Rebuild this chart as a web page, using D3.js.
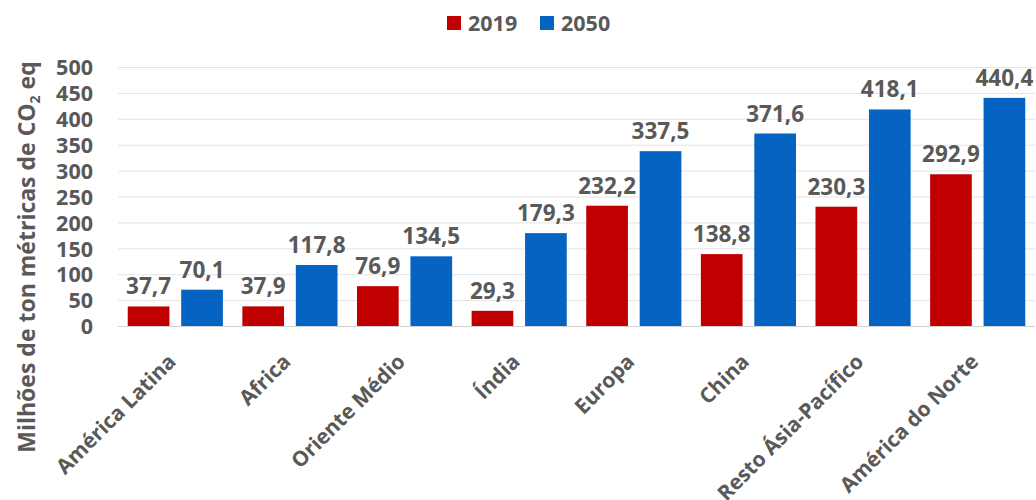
<!DOCTYPE html>
<html>
<head>
<meta charset="utf-8">
<script src="https://cdn.jsdelivr.net/npm/d3@7"></script>
<style>
  html, body { margin: 0; padding: 0; background: #fff; }
  svg text { font-family: "Open Sans", "DejaVu Sans", sans-serif; font-weight: bold; fill: #595959; }
</style>
</head>
<body>
<svg id="chart" width="1036" height="500"></svg>
<script>
// Emissions by region, millions of metric tons CO2 eq
const regions = ["América Latina", "Africa", "Oriente Médio", "Índia", "Europa", "China", "Resto Ásia-Pacífico", "América do Norte"];
const values2019 = [37.7, 37.9, 76.9, 29.3, 232.2, 138.8, 230.3, 292.9];
const values2050 = [70.1, 117.8, 134.5, 179.3, 337.5, 371.6, 418.1, 440.4];
const seriesNames = ["2019", "2050"];
const seriesColors = ["#C00000", "#0563C1"];
const yTicks = [0, 50, 100, 150, 200, 250, 300, 350, 400, 450, 500];

const svg = d3.select("#chart");
const margin = { left: 118, right: 1, top: 67, bottom: 174 };
const W = 1036, H = 500;

const x = d3.scaleBand().domain(regions).range([margin.left, W - margin.right]).paddingInner(0.17).paddingOuter(0.085);
const x1 = d3.scaleBand().domain(seriesNames).range([0, x.bandwidth()]).paddingInner(0.22);
const y = d3.scaleLinear().domain([0, 500]).range([H - margin.bottom, margin.top]);

// Gridlines
svg.append("g")
  .selectAll("line").data(yTicks).join("line")
  .attr("x1", margin.left).attr("x2", W - margin.right)
  .attr("y1", d => y(d) + 0.5).attr("y2", d => y(d) + 0.5)
  .attr("stroke", d => d === 0 ? "#d0d0d0" : "#e4e4e4").attr("stroke-width", 1);

// Y axis labels
const yAxis = d3.axisLeft(y).tickValues(yTicks).tickSize(0).tickPadding(0);
const gy = svg.append("g").attr("transform", `translate(${margin.left - 25},0)`).call(yAxis);
gy.select(".domain").remove();
gy.selectAll("text").style("font-size", "21.5px").attr("dy", "0.36em");

// Y axis title
svg.append("text")
  .attr("transform", "translate(35,257) rotate(-90)")
  .attr("text-anchor", "middle")
  .style("font-size", "23px")
  .html('Milhões de ton métricas de CO<tspan dy="5" style="font-size:14px">2</tspan><tspan dy="-5"> eq</tspan>');

// Bars and value labels
const data = regions.map((r, i) => ({ region: r, vals: [values2019[i], values2050[i]] }));
const groups = svg.append("g").selectAll("g").data(data).join("g")
  .attr("transform", d => `translate(${x(d.region)},0)`);

groups.selectAll("rect").data(d => d.vals.map((v, j) => ({ v, s: seriesNames[j], c: seriesColors[j] })))
  .join("rect")
  .attr("x", d => x1(d.s)).attr("width", x1.bandwidth())
  .attr("y", d => y(d.v)).attr("height", d => y(0) - y(d.v))
  .attr("fill", d => d.c);

const fmt = v => v.toFixed(1).replace(".", ",");
groups.selectAll("text.val").data(d => d.vals.map((v, j) => ({ v, s: seriesNames[j] })))
  .join("text").attr("class", "val")
  .attr("x", d => x1(d.s) + x1.bandwidth() / 2)
  .attr("y", d => y(d.v) - 12)
  .attr("text-anchor", "middle")
  .style("font-size", "22.5px")
  .text(d => fmt(d.v));

// X axis labels, rotated
const xAxis = d3.axisBottom(x).tickSize(0).tickPadding(0);
const gx = svg.append("g").attr("transform", `translate(0,${y(0)})`).call(xAxis);
gx.select(".domain").remove();
gx.selectAll("text")
  .style("font-size", "21px")
  .attr("text-anchor", "end")
  .attr("dy", null).attr("y", 0)
  .attr("transform", "translate(2,37) rotate(-45)");

// Legend
const legend = svg.append("g").attr("transform", "translate(447,0)");
seriesNames.forEach((s, i) => {
  const g = legend.append("g").attr("transform", `translate(${i * 93},0)`);
  g.append("rect").attr("x", 0).attr("y", 16).attr("width", 14).attr("height", 14).attr("fill", seriesColors[i]);
  g.append("text").attr("x", 21).attr("y", 31).style("font-size", "21.5px").text(s);
});
</script>
</body>
</html>
